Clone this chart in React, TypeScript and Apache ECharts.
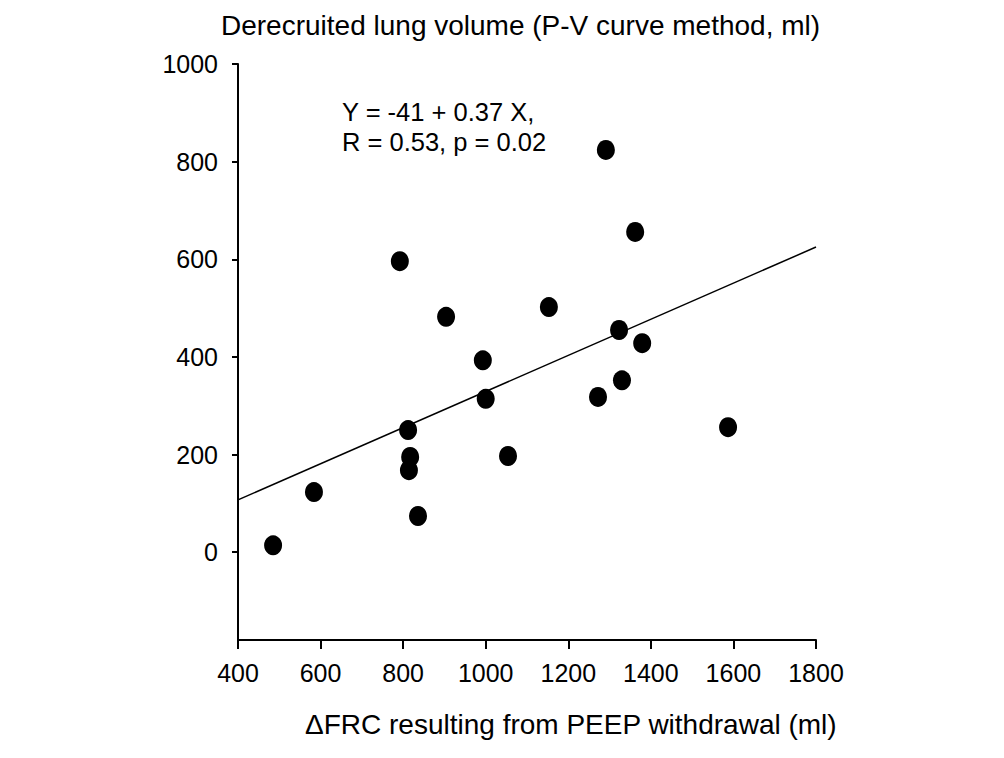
import React, { useEffect, useRef } from "react";
import * as echarts from "echarts";

const frcX = [485, 584, 792, 812, 817, 814, 836, 904, 993, 1000, 1054, 1153, 1272, 1291, 1323, 1330, 1362, 1379, 1587];
const derecY = [14, 123, 596, 250, 195, 168, 74, 482, 393, 314, 197, 502, 318, 824, 455, 352, 656, 428, 256];
const fitX = [400, 1800];
const fitY = [107, 625];
const yTicks = [0, 200, 400, 600, 800, 1000];

const FONT = "'Liberation Sans', Arial, sans-serif";

export default function App() {
  const ref = useRef<HTMLDivElement>(null);
  useEffect(() => {
    if (!ref.current) return;
    const chart = echarts.init(ref.current, undefined, { renderer: "svg" });
    chart.setOption({
      animation: false,
      backgroundColor: "#ffffff",
      grid: { left: 238, right: 188, top: 64, bottom: 118, containLabel: false },
      xAxis: {
        type: "value",
        min: 400,
        max: 1800,
        interval: 200,
        splitLine: { show: false },
        axisLine: { show: true, onZero: false, lineStyle: { color: "#000", width: 2 } },
        axisTick: { show: true, length: 9, lineStyle: { color: "#000", width: 2 } },
        axisLabel: {
          color: "#000",
          fontSize: 25,
          fontFamily: FONT,
          margin: 20,
          formatter: (v: number) => String(v),
        },
      },
      yAxis: {
        type: "value",
        min: -180,
        max: 1000,
        splitLine: { show: false },
        axisLine: { show: true, onZero: false, lineStyle: { color: "#000", width: 2 } },
        axisTick: { show: true, length: 6, customValues: yTicks, lineStyle: { color: "#000", width: 2 } },
        axisLabel: {
          color: "#000",
          fontSize: 25,
          fontFamily: FONT,
          margin: 20,
          customValues: yTicks,
          formatter: (v: number) => String(v),
        },
      },
      series: [
        {
          type: "line",
          data: fitX.map((x, i) => [x, fitY[i]]),
          showSymbol: false,
          symbol: "none",
          lineStyle: { color: "#000", width: 1.5 },
          z: 1,
        },
        {
          type: "scatter",
          data: frcX.map((x, i) => [x, derecY[i]]),
          symbol: "circle",
          symbolSize: [18, 20],
          itemStyle: { color: "#000", opacity: 1 },
          z: 2,
        },
      ],
      graphic: [
        {
          type: "text",
          left: 221,
          top: 11,
          style: {
            text: "Derecruited lung volume (P-V curve method, ml)",
            fontSize: 28,
            fontFamily: FONT,
            fill: "#000",
          },
        },
        {
          type: "text",
          left: 305,
          top: 710,
          style: {
            text: "\u0394FRC resulting from PEEP withdrawal (ml)",
            fontSize: 28,
            fontFamily: FONT,
            fill: "#000",
          },
        },
        {
          type: "text",
          left: 342,
          top: 97,
          style: {
            text: "Y = -41 + 0.37 X,\nR = 0.53, p = 0.02",
            fontSize: 25.5,
            lineHeight: 30,
            fontFamily: FONT,
            fill: "#000",
          },
        },
      ],
    });
    return () => chart.dispose();
  }, []);
  return <div ref={ref} style={{ width: 1004, height: 758, position: "absolute", left: 0, top: 0 }} />;
}
